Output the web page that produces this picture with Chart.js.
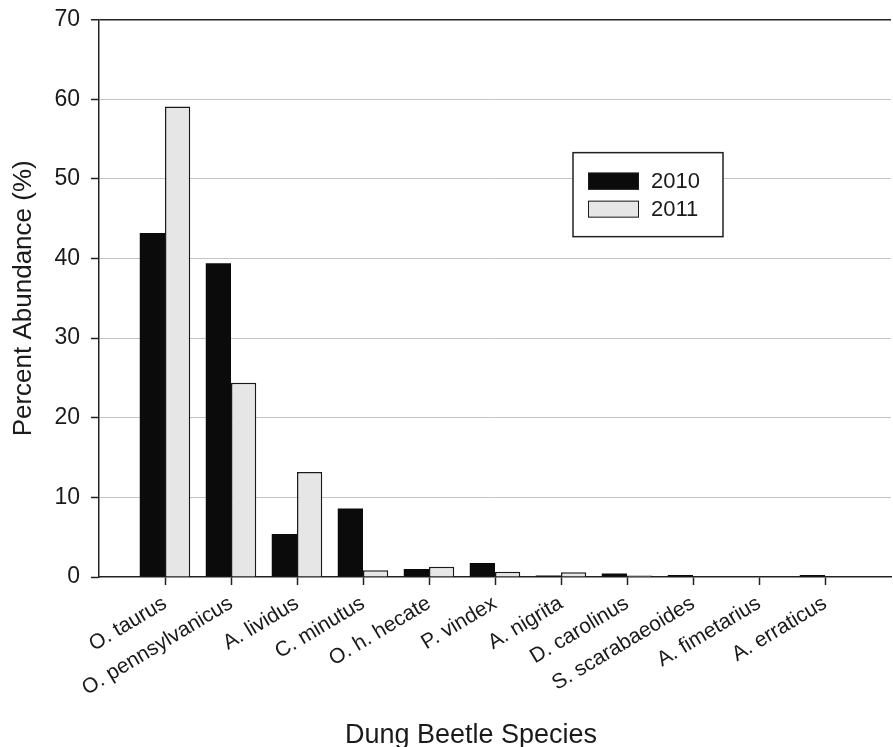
<!DOCTYPE html>
<html>
<head>
<meta charset="utf-8">
<script src="https://cdn.jsdelivr.net/npm/chart.js@4/dist/chart.umd.min.js"></script>
<style>
  html, body { margin: 0; padding: 0; background: #fff; overflow: hidden; }
  #wrap { position: relative; top: -4px; width: 910px; height: 751px; }
</style>
</head>
<body>
<div id="wrap"><canvas id="beetleChart"></canvas></div>
<script>
// species shown on the x axis (blank slots at both ends pad the axis like the original)
const species = ['O. taurus', 'O. pennsylvanicus', 'A. lividus', 'C. minutus', 'O. h. hecate',
  'P. vindex', 'A. nigrita', 'D. carolinus', 'S. scarabaeoides', 'A. fimetarius', 'A. erraticus'];
const abundance2010 = [43.2, 39.4, 5.4, 8.6, 1.0, 1.75, 0.2, 0.45, 0.25, 0, 0.25];
const abundance2011 = [59.1, 24.4, 13.2, 0.85, 1.3, 0.65, 0.6, 0.2, 0, 0, 0];
const yTicks = [0, 10, 20, 30, 40, 50, 60, 70];
const seriesNames = ['2010', '2011'];

const labels = [''].concat(species, ['']);
const pad = arr => [null].concat(arr, [null]);

const FONT = 'Liberation Sans, Arial, sans-serif';

// legend box drawn inside the plot, plus x title
const boxLegend = {
    id: 'boxLegend',
    afterDraw(chart) {
        const ctx = chart.ctx;
        const area = chart.chartArea;
        ctx.save();
        const bx = area.left + 474, by = area.top + 133, bw = 150, bh = 84;
        ctx.fillStyle = '#fff';
        ctx.fillRect(bx, by, bw, bh);
        ctx.strokeStyle = '#222';
        ctx.lineWidth = 1.5;
        ctx.strokeRect(bx, by, bw, bh);
        chart.data.datasets.forEach((ds, i) => {
            const sy = by + 20 + i * 28;
            ctx.fillStyle = ds.backgroundColor;
            ctx.fillRect(bx + 15, sy, 51, 17);
            ctx.strokeStyle = '#1a1a1a';
            ctx.lineWidth = 1;
            ctx.strokeRect(bx + 15.5, sy + 0.5, 50, 16);
            ctx.fillStyle = '#1a1a1a';
            ctx.font = '22px ' + FONT;
            ctx.textBaseline = 'middle';
            ctx.fillText(ds.label, bx + 78, sy + 9);
        });
        ctx.font = '27px ' + FONT;
        ctx.textAlign = 'center';
        ctx.textBaseline = 'alphabetic';
        ctx.fillStyle = '#1a1a1a';
        ctx.fillText('Dung Beetle Species', area.left + 372, area.bottom + 166);
        ctx.restore();
    }
};

const ctx = document.getElementById('beetleChart').getContext('2d');
new Chart(ctx, {
    type: 'bar',
    data: {
        labels: labels,
        datasets: [{
            label: seriesNames[0], data: pad(abundance2010),
            backgroundColor: '#0b0b0b', borderColor: '#0b0b0b', borderWidth: 0
        }, {
            label: seriesNames[1], data: pad(abundance2011),
            backgroundColor: '#e6e6e6', borderColor: '#1a1a1a', borderWidth: 1.5
        }]
    },
    options: {
        responsive: true, maintainAspectRatio: false, animation: false,
        devicePixelRatio: 1,
        layout: { padding: { top: 0, right: 11, left: 0, bottom: 0 } },
        datasets: { bar: { categoryPercentage: 0.765, barPercentage: 1 } },
        plugins: { legend: { display: false }, tooltip: { enabled: false } },
        scales: {
            x: {
                offset: false,
                grid: {
                    display: true, offset: false, drawOnChartArea: false, drawTicks: true, tickLength: 8,
                    tickColor: c => (c.index === 0 || c.index === labels.length - 1) ? 'rgba(0,0,0,0)' : '#222',
                    tickWidth: 1.5
                },
                border: { display: true, color: '#222', width: 1.5 },
                ticks: {
                    autoSkip: false, minRotation: 31, maxRotation: 31, padding: 6,
                    color: '#1a1a1a', font: { size: 21, family: FONT }
                },
                afterFit: s => { s.height = 170; }
            },
            y: {
                min: 0, max: 70,
                afterBuildTicks: s => { s.ticks = yTicks.map(v => ({ value: v })); },
                grid: {
                    color: c => c.tick && c.tick.value === 70 ? '#222' : (c.tick && c.tick.value === 0 ? 'rgba(0,0,0,0)' : '#c4c4c4'),
                    lineWidth: c => c.tick && c.tick.value === 70 ? 1.5 : 1,
                    tickColor: '#222', tickLength: 8, tickWidth: 1.5
                },
                border: { display: true, color: '#222', width: 1.5 },
                ticks: { padding: 11, color: '#1a1a1a', font: { size: 23, family: FONT, lineHeight: 1.1 } },
                title: {
                    display: true, text: 'Percent Abundance (%)', color: '#1a1a1a',
                    font: { size: 26, family: FONT }, padding: { top: 8, bottom: 0 }
                },
                afterFit: s => { s.width = 99; }
            }
        }
    },
    plugins: [boxLegend]
});
</script>
</body>
</html>
